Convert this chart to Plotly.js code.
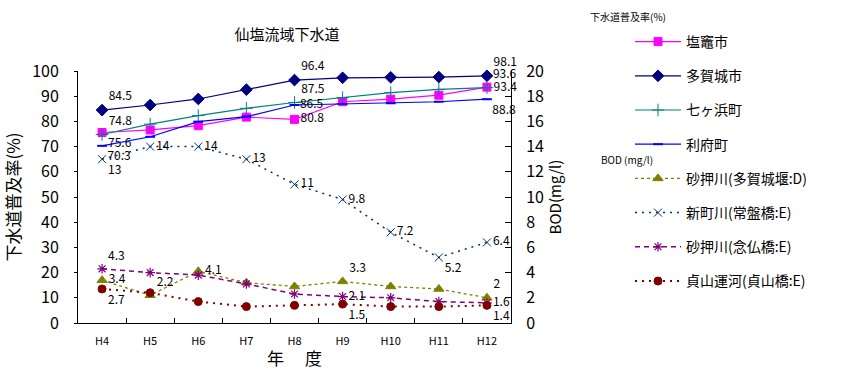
<!DOCTYPE html>
<html><head><meta charset="utf-8">
<script src="https://cdn.plot.ly/plotly-3.0.1.min.js"></script>
<style>html,body{margin:0;padding:0;background:#fff}#chart{width:849px;height:370px}</style>
</head><body><div id="chart"></div>
<script>
const years = ['H4','H5','H6','H7','H8','H9','H10','H11','H12'];
// 下水道普及率(%)
const shiogama = [75.6,76.6,78.3,81.7,80.8,87.8,88.8,90.4,93.6];
const tagajo = [84.5,86.5,88.9,92.6,96.4,97.3,97.5,97.6,98.1];
const shichigahama = [74.8,78.9,82.3,85.2,87.5,89.4,91.4,92.7,93.4];
const rifu = [70.3,73.9,79.9,81.9,86.5,86.9,87.2,87.8,88.8];
// BOD (mg/l)
const bodSunaoshiTaga = [3.4,2.2,4.1,3.2,2.9,3.3,2.9,2.7,2.0];
const bodShinmachi = [13,14,14,13,11,9.8,7.2,5.2,6.4];
const bodSunaoshiNenbutsu = [4.3,4.0,3.8,3.1,2.3,2.1,2.0,1.7,1.6];
const bodTeizan = [2.7,2.4,1.7,1.3,1.4,1.5,1.3,1.3,1.4];

function labels(vals, idx){ return vals.map((v,i)=> idx.includes(i) ? String(v) : ''); }
const F = '"Noto Sans CJK JP", "Noto Sans", sans-serif';
const tf = {family:F, size:12, color:'#000'};

function tr(name, y, color, dash, width, marker, lbl, pos, axis){
  return {
    type:'scatter', mode:'lines+markers+text', name:name, x:years, y:y,
    yaxis: axis, legendgroup:name,
    line:{color:color, width:width, dash:dash},
    marker:Object.assign({color:color, line:{color:color, width:1}}, marker),
    text:lbl, textposition:pos, textfont:tf, cliponaxis:false
  };
}

const data = [
  tr('塩竈市', shiogama, '#FF00FF', 'solid', 1.2, {symbol:'square', size:8}, labels(shiogama,[0,4,8]),
     ['bottom right','','','','middle right','','','','top right'], 'y'),
  tr('多賀城市', tagajo, '#000080', 'solid', 1.2, {symbol:'diamond', size:9}, labels(tagajo,[0,4,8]),
     ['top right','','','','top right','','','','top right'], 'y'),
  tr('七ヶ浜町', shichigahama, '#008080', 'solid', 1.2, {symbol:'cross-thin', size:9}, labels(shichigahama,[0,4,8]),
     ['top right','','','','top right','','','','middle right'], 'y'),
  tr('利府町', rifu, '#0000FF', 'solid', 1.2, {symbol:'line-ew', size:7, line:{color:'#0000FF', width:2}}, labels(rifu,[0,4,8]),
     ['bottom right','','','','middle right','','','','bottom right'], 'y'),
  tr('砂押川(多賀城堰:D)', bodSunaoshiTaga, '#808000', '3px,3px', 1.3, {symbol:'triangle-up', size:9}, labels(bodSunaoshiTaga,[0,1,2,5,8]),
     ['middle right','top right','middle right','','','top right','','','top right'], 'y2'),
  tr('新町川(常盤橋:E)', bodShinmachi, '#003366', '2px,5px', 1.5, {symbol:'x-thin', size:8}, labels(bodShinmachi,[0,1,2,3,4,5,6,7,8]),
     ['bottom right','middle right','middle right','middle right','middle right','middle right','middle right','bottom right','middle right'], 'y2'),
  tr('砂押川(念仏橋:E)', bodSunaoshiNenbutsu, '#800080', '5px,4px', 1.5, {symbol:'asterisk-open', size:8, line:{color:'#800080', width:1.2}}, labels(bodSunaoshiNenbutsu,[0,5,8]),
     ['top right','','','','','middle right','','','middle right'], 'y2'),
  tr('貞山運河(貞山橋:E)', bodTeizan, '#800000', '2px,5px', 2, {symbol:'circle', size:8}, labels(bodTeizan,[0,5,8]),
     ['bottom right','','','','','bottom right','','','bottom right'], 'y2'),
];

const layout = {
  width:849, height:370,
  margin:{l:78, r:338, t:71, b:47, pad:0},
  paper_bgcolor:'#fff', plot_bgcolor:'#fff',
  font:{family:F, color:'#000'},
  showlegend:true,
  title:{text:'仙塩流域下水道', font:{family:F, size:15, color:'#000'},
         x:287/849, xanchor:'center', y:1-35/370, yanchor:'middle', xref:'container', yref:'container'},
  xaxis:{type:'category', range:[-0.5,8.5], showgrid:false, zeroline:false,
         showline:true, linecolor:'#000', linewidth:1,
         ticks:'inside', ticklen:5, tickcolor:'#000', tickson:'boundaries',
         tickfont:{family:F, size:11}, ticklabelstandoff:8,
         title:{text:'年　 度', font:{family:F, size:17}, standoff:0}},
  yaxis:{range:[0,100], dtick:10, showgrid:false, zeroline:false,
         showline:true, linecolor:'#000', linewidth:1,
         ticks:'outside', ticklen:3, tickcolor:'#000',
         tickfont:{family:F, size:16}, ticklabelstandoff:12,
         title:{text:'下水道普及率(%)', font:{family:F, size:17}, standoff:12}},
  yaxis2:{range:[0,20], dtick:2, overlaying:'y', side:'right', showgrid:false, zeroline:false,
         showline:true, linecolor:'#000', linewidth:1,
         ticks:'inside', ticklen:6, tickcolor:'#000',
         tickfont:{family:F, size:16}, ticklabelstandoff:11,
         title:{text:'BOD(mg/l)', font:{family:F, size:15}, standoff:2}},
  legend:{x:(630-78)/433, xanchor:'left', y:(323-26)/252, yanchor:'top',
          traceorder:'grouped', tracegroupgap:13, itemwidth:46, maxheight:360,
          font:{family:F, size:14, color:'#000'}, bgcolor:'rgba(0,0,0,0)', borderwidth:0},
  annotations:[
    {text:'下水道普及率(%)', xref:'paper', yref:'paper', x:(588-78)/433, y:(323-16)/252,
     xanchor:'left', yanchor:'middle', showarrow:false, font:{family:F, size:10, color:'#000'}},
    {text:'BOD (mg/l)', xref:'paper', yref:'paper', x:(599-78)/433, y:(323-159)/252,
     xanchor:'left', yanchor:'middle', showarrow:false, font:{family:F, size:10, color:'#000'}}
  ]
};
Plotly.newPlot('chart', data, layout, {displayModeBar:false, staticPlot:true});
</script></body></html>
